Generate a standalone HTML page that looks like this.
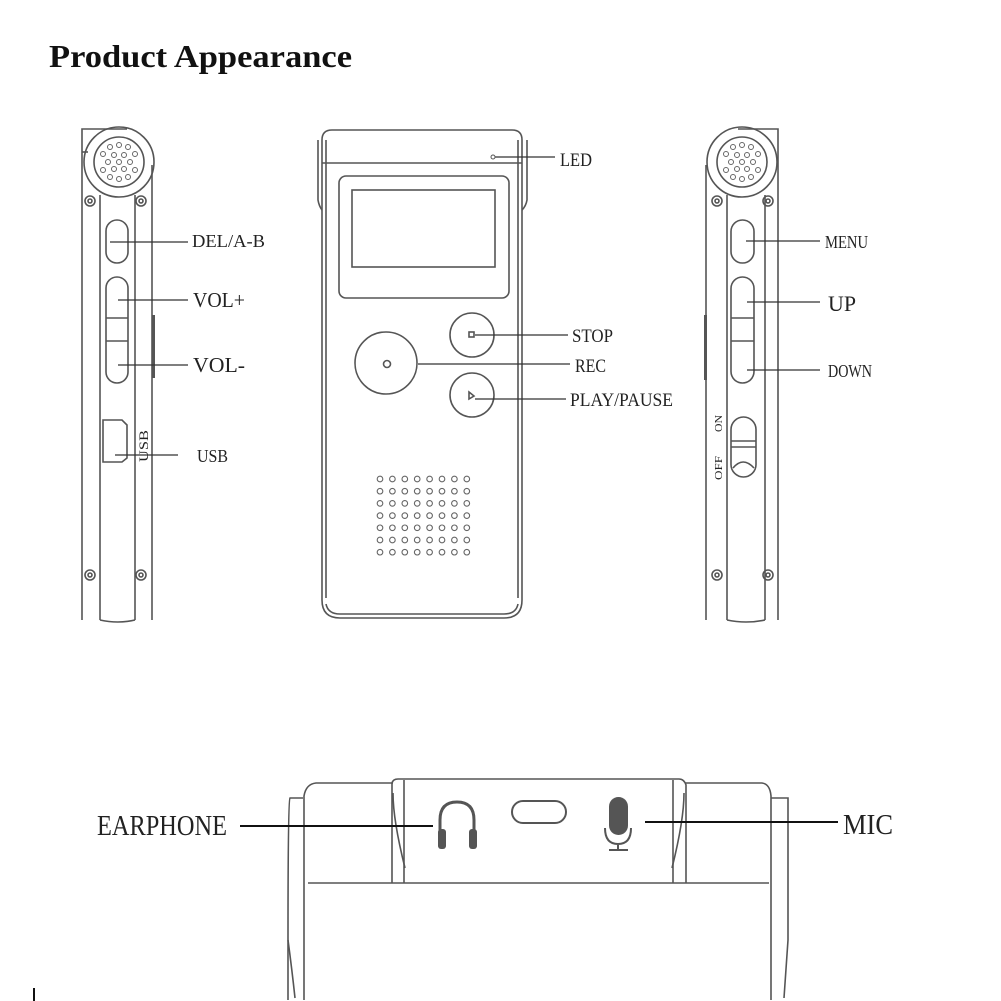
<!DOCTYPE html>
<html><head><meta charset="utf-8"><style>
html,body{margin:0;padding:0;background:#fff;}
svg{display:block;}
text{font-family:"Liberation Serif",serif;fill:#222;}
</style></head><body>
<svg width="1001" height="1001" viewBox="0 0 1001 1001" xmlns="http://www.w3.org/2000/svg">
<defs>
<g id="mh" fill="none" stroke="#666" stroke-width="1">
<circle cx="0" cy="-17" r="2.5"/><circle cx="-9" cy="-15" r="2.5"/><circle cx="9" cy="-15" r="2.5"/>
<circle cx="-16" cy="-8" r="2.5"/><circle cx="16" cy="-8" r="2.5"/><circle cx="-5" cy="-7" r="2.5"/><circle cx="5" cy="-7" r="2.5"/>
<circle cx="-11" cy="0" r="2.5"/><circle cx="0" cy="0" r="2.5"/><circle cx="11" cy="0" r="2.5"/>
<circle cx="-16" cy="8" r="2.5"/><circle cx="16" cy="8" r="2.5"/><circle cx="-5" cy="7" r="2.5"/><circle cx="5" cy="7" r="2.5"/>
<circle cx="0" cy="17" r="2.5"/><circle cx="-9" cy="15" r="2.5"/><circle cx="9" cy="15" r="2.5"/>
</g>
<g id="row" fill="none" stroke="#666" stroke-width="1.1">
<circle cx="380" cy="0" r="2.8"/><circle cx="392.4" cy="0" r="2.8"/><circle cx="404.8" cy="0" r="2.8"/><circle cx="417.2" cy="0" r="2.8"/><circle cx="429.6" cy="0" r="2.8"/><circle cx="442" cy="0" r="2.8"/><circle cx="454.4" cy="0" r="2.8"/><circle cx="466.8" cy="0" r="2.8"/>
</g>
</defs>
<rect width="1001" height="1001" fill="#fff"/>
<text x="49" y="67" font-size="32" font-weight="bold" textLength="303" lengthAdjust="spacingAndGlyphs" style="fill:#111">Product Appearance</text>

<g fill="none" stroke="#555" stroke-width="1.6">
<!-- LEFT DEVICE -->
<path d="M82 620 V129 H127"/>
<path d="M100 620 V195"/>
<path d="M135 620 V195"/>
<path d="M152 620 V165"/>
<path d="M100 620 Q118 624 135 620"/>
<circle cx="119" cy="162" r="35"/>
<circle cx="119" cy="162" r="25"/>
<path d="M82 152 H88"/>
<circle cx="90" cy="201" r="5"/><circle cx="90" cy="201" r="2"/>
<circle cx="141" cy="201" r="5"/><circle cx="141" cy="201" r="2"/>
<circle cx="90" cy="575" r="5"/><circle cx="90" cy="575" r="2"/>
<circle cx="141" cy="575" r="5"/><circle cx="141" cy="575" r="2"/>
<rect x="106" y="220" width="22" height="43" rx="11"/>
<rect x="106" y="277" width="22" height="106" rx="11"/>
<path d="M106 318 H128 M106 341 H128"/>
<path d="M103 420 H122 L127 425 V458 L122 462 H103 Z"/>
<!-- CENTER DEVICE -->
<path d="M322 600 V140 Q322 130 332 130 H512 Q522 130 522 140 V600 Q522 618 504 618 H340 Q322 618 322 600 Z"/>
<path d="M326 598 V140 M518 598 V140"/>
<path d="M326 604 Q328 614 340 614 H504 Q516 614 518 604"/>
<path d="M318 140 V200 Q319 206 322 210 M527 140 V200 Q526 206 522 210"/>
<path d="M322 163 H522"/>
<rect x="339" y="176" width="170" height="122" rx="7"/>
<rect x="352" y="190" width="143" height="77"/>
<circle cx="472" cy="335" r="22"/>
<rect x="469" y="332" width="5" height="5"/>
<circle cx="386" cy="363" r="31"/>
<circle cx="387" cy="364" r="3.5"/>
<circle cx="472" cy="395" r="22"/>
<path d="M469 392 L474 396 L469 399 Z"/>
<!-- RIGHT DEVICE -->
<path d="M778 620 V129 H738"/>
<path d="M706 620 V165"/>
<path d="M727 620 V195"/>
<path d="M765 620 V195"/>
<path d="M727 620 Q746 624 765 620"/>
<circle cx="742" cy="162" r="35"/>
<circle cx="742" cy="162" r="25"/>
<circle cx="717" cy="201" r="5"/><circle cx="717" cy="201" r="2"/>
<circle cx="768" cy="201" r="5"/><circle cx="768" cy="201" r="2"/>
<circle cx="717" cy="575" r="5"/><circle cx="717" cy="575" r="2"/>
<circle cx="768" cy="575" r="5"/><circle cx="768" cy="575" r="2"/>
<rect x="731" y="220" width="23" height="43" rx="11.5"/>
<rect x="731" y="277" width="23" height="106" rx="11.5"/>
<path d="M731 318 H754 M731 341 H754"/>
<rect x="731" y="417" width="25" height="60" rx="12.5"/>
<path d="M731 441 H756 M731 447 H756 M733 468 Q743 456 754 468"/>
<!-- BOTTOM -->
<path d="M288 1000 V940 Q288 800 290 798 H303"/>
<path d="M288 940 Q292 970 295 998"/>
<path d="M304 1000 V796 Q306 784 316 783 H393"/>
<path d="M392 883 V783 Q393 779 398 779 H679 Q684 779 686 785 V883"/>
<path d="M404 883 V780 M673 883 V780"/>
<path d="M393 793 Q393 820 405 868 M684 793 Q684 820 672 868"/>
<path d="M685 783 H762 Q770 784 771 796 V1000"/>
<path d="M771 798 H788 V940 Q786 970 784 998"/>
<path d="M308 883 H769"/>
<rect x="512" y="801" width="54" height="22" rx="11" stroke-width="2"/>
<path d="M440 838 V820 Q440 802 457 802 Q474 802 474 820 V838" stroke-width="3"/>
<path d="M605 828 Q605 844 618 844 Q631 844 631 828 M618 844 V849 M609 850 H628" stroke-width="2"/>
</g>
<g fill="#555">
<rect x="438" y="829" width="8" height="20" rx="3"/>
<rect x="469" y="829" width="8" height="20" rx="3"/>
<rect x="609" y="797" width="19" height="38" rx="9.5"/>
<rect x="152" y="315" width="3" height="63"/>
<rect x="704" y="315" width="3" height="65"/>
<rect x="33" y="988" width="2" height="13" fill="#111"/>
</g>
<use href="#mh" x="119" y="162"/>
<use href="#mh" x="742" y="162"/>
<use href="#row" y="479"/><use href="#row" y="491.2"/><use href="#row" y="503.4"/><use href="#row" y="515.6"/><use href="#row" y="527.8"/><use href="#row" y="540"/><use href="#row" y="552.2"/>
<!-- leader lines -->
<g stroke="#333" stroke-width="1.3">
<path d="M110 242 H188 M118 300 H188 M118 365 H188 M115 455 H178"/>
<path d="M495 157 H555 M475 335 H568 M418 364 H570 M475 399 H566"/>
<path d="M746 241 H820 M747 302 H820 M747 370 H820"/>
</g>
<g stroke="#111" stroke-width="2">
<path d="M240 826 H433 M645 822 H838"/>
</g>
<circle cx="493" cy="157" r="2" fill="none" stroke="#555"/>
<!-- labels -->
<text x="192" y="247" font-size="18" textLength="73" lengthAdjust="spacingAndGlyphs">DEL/A-B</text>
<text x="193" y="307" font-size="21" textLength="52" lengthAdjust="spacingAndGlyphs">VOL+</text>
<text x="193" y="372" font-size="21" textLength="52" lengthAdjust="spacingAndGlyphs">VOL-</text>
<text x="197" y="462" font-size="18" textLength="31" lengthAdjust="spacingAndGlyphs">USB</text>
<text x="560" y="166" font-size="19" textLength="32" lengthAdjust="spacingAndGlyphs">LED</text>
<text x="572" y="342" font-size="19" textLength="41" lengthAdjust="spacingAndGlyphs">STOP</text>
<text x="575" y="372" font-size="19" textLength="31" lengthAdjust="spacingAndGlyphs">REC</text>
<text x="570" y="406" font-size="19" textLength="103" lengthAdjust="spacingAndGlyphs">PLAY/PAUSE</text>
<text x="825" y="248" font-size="18" textLength="43" lengthAdjust="spacingAndGlyphs">MENU</text>
<text x="828" y="311" font-size="22" textLength="28" lengthAdjust="spacingAndGlyphs">UP</text>
<text x="828" y="377" font-size="18" textLength="44" lengthAdjust="spacingAndGlyphs">DOWN</text>
<text x="97" y="835" font-size="29" textLength="130" lengthAdjust="spacingAndGlyphs">EARPHONE</text>
<text x="843" y="834" font-size="29" textLength="50" lengthAdjust="spacingAndGlyphs">MIC</text>
<text transform="translate(148 462) rotate(-90)" font-size="13" textLength="32" lengthAdjust="spacingAndGlyphs">USB</text>
<text transform="translate(722 432) rotate(-90)" font-size="11" textLength="17" lengthAdjust="spacingAndGlyphs">ON</text>
<text transform="translate(722 480) rotate(-90)" font-size="11" textLength="24" lengthAdjust="spacingAndGlyphs">OFF</text>
</svg>
</body></html>
